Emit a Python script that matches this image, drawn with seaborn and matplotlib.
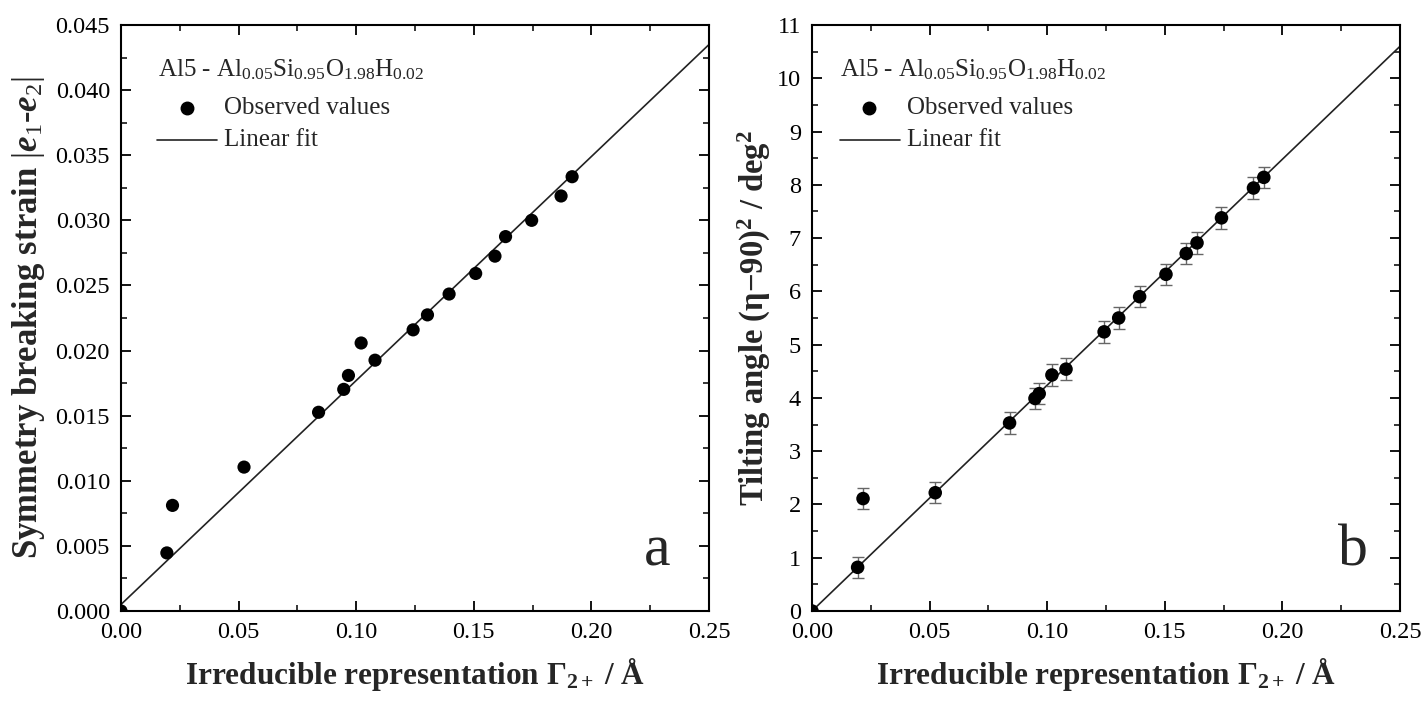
import numpy as np
import pandas as pd
import matplotlib
matplotlib.use("Agg")
import matplotlib.pyplot as plt
import seaborn as sns
from matplotlib.ticker import MultipleLocator, FormatStrFormatter

# ---------------- data ----------------
gamma_a = [0.0, 0.0195, 0.0219, 0.0523, 0.0840, 0.0947, 0.0967, 0.1021, 0.1080,
           0.1242, 0.1303, 0.1395, 0.1508, 0.1590, 0.1635, 0.1746, 0.1871, 0.1918]
strain = [0.0, 0.00446, 0.00811, 0.01105, 0.01526, 0.01702, 0.01809, 0.02058, 0.01926,
          0.02159, 0.02274, 0.02434, 0.02592, 0.02725, 0.02875, 0.03000, 0.03187, 0.03335]
fit_a_slope, fit_a_intercept = 0.172, 0.0005

gamma_b = [0.0, 0.0194, 0.0217, 0.0524, 0.0840, 0.0948, 0.0966, 0.1020, 0.1080,
           0.1242, 0.1304, 0.1393, 0.1505, 0.1591, 0.1637, 0.1741, 0.1877, 0.1921]
tilt = [0.0, 0.82, 2.11, 2.22, 3.53, 3.99, 4.08, 4.43, 4.54,
        5.24, 5.50, 5.90, 6.32, 6.71, 6.91, 7.38, 7.94, 8.14]
tilt_err = [0.0] + [0.2] * 17
fit_b_slope, fit_b_intercept = 42.4, 0.0

fit_x = [0.0, 0.25]
formula = r'Al5 - Al$_{0.05}$Si$_{0.95}$O$_{1.98}$H$_{0.02}$'

# ---------------- style ----------------
sns.set_theme(style="ticks")
plt.rcParams['font.family'] = ['Liberation Serif', 'DejaVu Serif']
plt.rcParams['mathtext.fontset'] = 'custom'
plt.rcParams['mathtext.rm'] = 'Liberation Serif'
plt.rcParams['mathtext.it'] = 'Liberation Serif:italic'
plt.rcParams['mathtext.bf'] = 'Liberation Serif:bold'
plt.rcParams['mathtext.bfit'] = 'Liberation Serif:bold:italic'
plt.rcParams['axes.linewidth'] = 1.5

fig = plt.figure(figsize=(14.24, 7.06), dpi=100)
H = 706.0
W = 1424.0
axA = fig.add_axes([121 / W, (H - 611) / H, 588 / W, 586 / H])
axB = fig.add_axes([812 / W, (H - 611) / H, 588 / W, 586 / H])

dfA = pd.DataFrame({'x': gamma_a, 'y': strain})
dfB = pd.DataFrame({'x': gamma_b, 'y': tilt, 'e': tilt_err})
fitA = pd.DataFrame({'x': fit_x, 'y': [fit_a_intercept + fit_a_slope * v for v in fit_x]})
fitB = pd.DataFrame({'x': fit_x, 'y': [fit_b_intercept + fit_b_slope * v for v in fit_x]})

# panel a
sns.lineplot(data=fitA, x='x', y='y', ax=axA, color='#222222', lw=1.2, zorder=2)
sns.scatterplot(data=dfA, x='x', y='y', ax=axA, color='black', s=90, edgecolor='none', zorder=3)

# panel b
sns.lineplot(data=fitB, x='x', y='y', ax=axB, color='#222222', lw=1.2, zorder=2)
axB.errorbar(dfB['x'], dfB['y'], yerr=dfB['e'], fmt='none', ecolor='#666666',
             elinewidth=1.0, capsize=4.5, capthick=1.0, zorder=2.5)
sns.scatterplot(data=dfB, x='x', y='y', ax=axB, color='black', s=95, edgecolor='none', zorder=3)

tick_font = 17.5
for ax in (axA, axB):
    ax.set_xlim(0, 0.25)
    ax.xaxis.set_major_locator(MultipleLocator(0.05))
    ax.xaxis.set_minor_locator(MultipleLocator(0.025))
    ax.xaxis.set_major_formatter(FormatStrFormatter('%.2f'))
    ax.tick_params(which='both', direction='in', top=True, right=True,
                   labelsize=tick_font, colors='black')
    ax.tick_params(which='major', length=7, width=1.3, pad=8)
    ax.tick_params(which='minor', length=4, width=1.1)
    for sp in ax.spines.values():
        sp.set_linewidth(1.5)
        sp.set_color('black')
    ax.set_xlabel(r'Irreducible representation Γ$_{\mathbf{2+}}$ / Å',
                  fontsize=22.5, fontweight='bold', labelpad=9)

axA.set_ylim(0, 0.045)
axA.yaxis.set_major_locator(MultipleLocator(0.005))
axA.yaxis.set_minor_locator(MultipleLocator(0.0025))
axA.yaxis.set_major_formatter(FormatStrFormatter('%.3f'))
axA.set_ylabel(r'Symmetry breaking strain $|\mathbfit{e}_{1}$-$\mathbfit{e}_{2}|$',
               fontsize=25, fontweight='bold', labelpad=6)

axB.set_ylim(0, 11)
axB.yaxis.set_major_locator(MultipleLocator(1))
axB.yaxis.set_minor_locator(MultipleLocator(0.5))
axB.yaxis.set_major_formatter(FormatStrFormatter('%d'))
axB.set_ylabel(r'Tilting angle (η−90)$^{\mathbf{2}}$ / deg$^{\mathbf{2}}$',
               fontsize=23.5, fontweight='bold', labelpad=3)

# legends / annotations
leg_font = 18
for ax, xs in ((axA, (0.063, 0.112, 0.176, 0.061, 0.164)),
               (axB, (0.048, 0.097, 0.161, 0.048, 0.150))):
    tx, mx, lx, l0, l1 = xs
    ax.text(tx, 0.913, formula, transform=ax.transAxes, fontsize=leg_font,
            ha='left', va='baseline')
    ax.plot([mx], [0.858], 'o', color='black', ms=9, transform=ax.transAxes)
    ax.text(lx, 0.858, 'Observed values', transform=ax.transAxes, fontsize=leg_font,
            ha='left', va='center')
    ax.plot([l0, l1], [0.804, 0.804], '-', color='#222222', lw=1.2, transform=ax.transAxes)
    ax.text(lx, 0.804, 'Linear fit', transform=ax.transAxes, fontsize=leg_font,
            ha='left', va='center')

axA.text(0.912, 0.078, 'a', transform=axA.transAxes, fontsize=43, ha='center', va='baseline')
axB.text(0.92, 0.078, 'b', transform=axB.transAxes, fontsize=43, ha='center', va='baseline')

fig.savefig('out.png', dpi=100)
